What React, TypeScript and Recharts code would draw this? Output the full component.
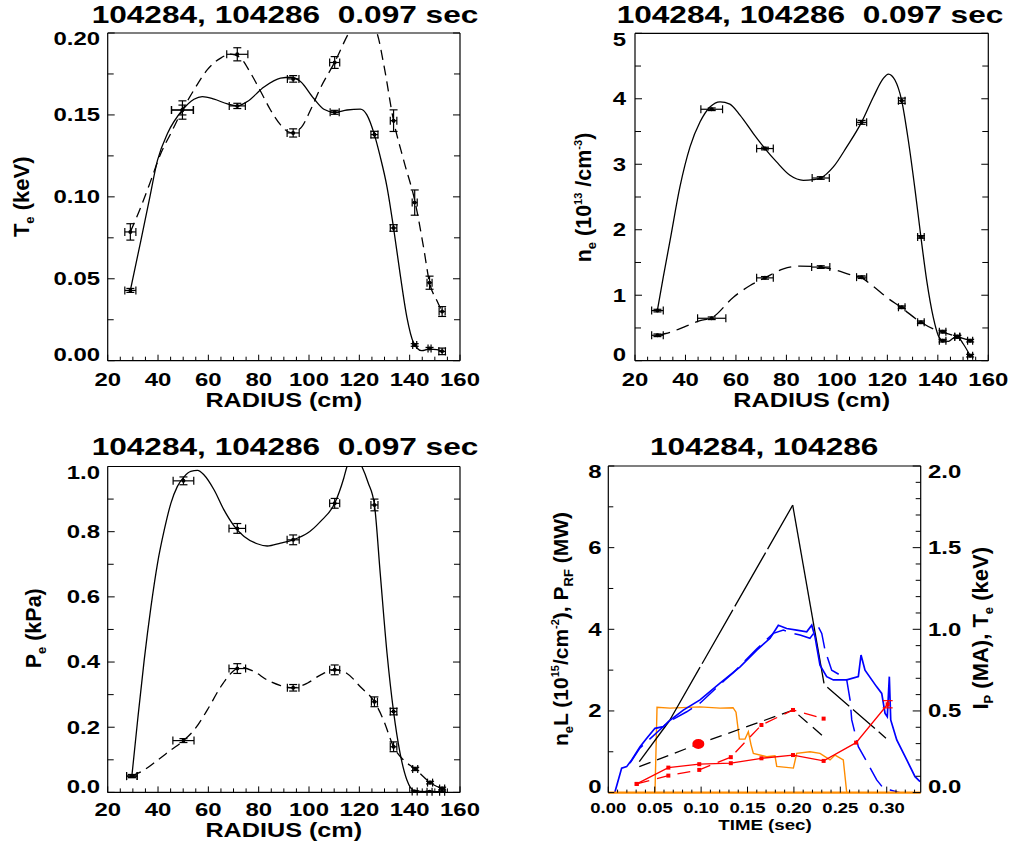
import React from 'react';
import { ComposedChart, Line, Scatter, XAxis, YAxis, ErrorBar } from 'recharts';

const W = 1013;
const H = 849;
const FONT = '"Liberation Sans", Arial, Helvetica, sans-serif';
const BLUE = '#0000ff';
const RED = '#ff0000';
const ORANGE = '#ff8c00';

// ---------------- tick labels ----------------
const RAD_TICKS = [20, 40, 60, 80, 100, 120, 140, 160];
const TE_TICKS = [0, 0.05, 0.1, 0.15, 0.2];
const NE_TICKS = [0, 1, 2, 3, 4, 5];
const PE_TICKS = [0, 0.2, 0.4, 0.6, 0.8, 1.0];
const TIME_TICKS = [0, 0.05, 0.1, 0.15, 0.2, 0.25, 0.3];
const LEFT4_TICKS = [0, 2, 4, 6, 8];
const RIGHT4_TICKS = [0, 0.5, 1.0, 1.5, 2.0];

const range = (a: number, b: number, s: number) => {
  const out: number[] = [];
  for (let i = 0; a + i * s <= b + 1e-9; i++) out.push(+(a + i * s).toFixed(6));
  return out;
};
const RAD_MINOR = range(20, 160, 5);
const TE_MINOR = range(0, 0.2, 0.025);
const NE_MINOR = range(0, 5, 0.5);
const PE_MINOR = range(0, 1, 0.1);
const TIME_MINOR = range(0, 0.33, 0.01);
const LEFT4_MINOR = range(0, 8, 1);
const RIGHT4_MINOR = range(0, 2, 0.1);

// ---------------- panel 1: Te profiles ----------------
const TE_SOLID_R = [29, 49.7, 71.5, 93.7, 110.2, 126, 133.6, 142, 147.9, 152.9];
const TE_SOLID = [0.0429, 0.153, 0.1555, 0.172, 0.1516, 0.138, 0.081, 0.0096, 0.0075, 0.0057];
const TE_SOLID_XERR = [2.2, 4.3, 3.2, 2.3, 1.8, 1.4, 1.3, 0.8, 0.6, 1.3];
const TE_SOLID_YERR = [0.0012, 0.003, 0.0016, 0.002, 0.0012, 0.002, 0.002, 0.0008, 0.0006, 0.002];
const TE_DASH_R = [29, 49.7, 71.5, 93.7, 110.2, 133.6, 142, 147.9, 152.9];
const TE_DASH = [0.0786, 0.153, 0.187, 0.139, 0.182, 0.1465, 0.0965, 0.0476, 0.03];
const TE_DASH_XERR = [2.2, 4.4, 4.2, 2.4, 2.0, 1.3, 1.0, 1.0, 1.2];
const TE_DASH_YERR = [0.005, 0.0056, 0.004, 0.0025, 0.0036, 0.0066, 0.0077, 0.004, 0.003];
const TE_FIT_SOLID_R = [29, 33.2, 36.5, 39.8, 43.8, 49.7, 54.3, 57.6, 62.3, 67.6, 71.5, 75.5, 82.1, 88.7, 92.7, 96.6, 101.9, 105.9, 110.2, 115.1, 120.4, 123, 126, 128.3, 131, 133.6, 136.2, 138.9, 141.5, 144.8, 147.9, 150.8, 152.9];
const TE_FIT_SOLID = [0.0429, 0.0735, 0.098, 0.1224, 0.1388, 0.153, 0.1596, 0.1612, 0.1596, 0.1567, 0.1555, 0.1582, 0.167, 0.1724, 0.173, 0.1704, 0.16, 0.1535, 0.1516, 0.153, 0.1535, 0.15, 0.1378, 0.1245, 0.106, 0.081, 0.053, 0.0265, 0.0112, 0.0061, 0.0071, 0.0067, 0.0057];
const TE_FIT_DASH_R = [29, 33.2, 37.2, 41.1, 45.1, 49.7, 54.3, 59.6, 64.9, 68.9, 72.8, 76.8, 80.8, 84.7, 88.7, 92.7, 96.6, 100.6, 104.5, 110.2, 115.8, 121, 127, 129.6, 133.6, 137.6, 142.2, 145.5, 147.9, 150.8, 152.9];
const TE_FIT_DASH = [0.0786, 0.0939, 0.1102, 0.1265, 0.1388, 0.153, 0.1653, 0.1776, 0.1847, 0.1871, 0.1847, 0.1755, 0.1643, 0.153, 0.1439, 0.1392, 0.1418, 0.153, 0.1663, 0.1822, 0.2, 0.212, 0.2, 0.1816, 0.1465, 0.1224, 0.0965, 0.0694, 0.0476, 0.0367, 0.03];

// ---------------- panel 2: ne profiles ----------------
const NE_R = [28.9, 50.4, 71.5, 93.6, 109.8, 125.7, 133.3, 141.9, 147.7, 152.8];
const NE_SOLID = [0.765, 3.84, 3.24, 2.79, 3.64, 3.97, 1.89, 0.306, 0.367, 0.077];
const NE_SOLID_XERR = [2.3, 4.3, 3.3, 3.4, 2.0, 1.3, 1.3, 1.3, 1.0, 1.0];
const NE_SOLID_YERR = [0.02, 0.02, 0.02, 0.02, 0.03, 0.04, 0.02, 0.02, 0.02, 0.02];
const NE_DASH = [0.388, 0.648, 1.265, 1.43, 1.276, 0.816, 0.587, 0.444, 0.367, 0.306];
const NE_DASH_XERR = [2.3, 5.6, 3.3, 3.6, 2.0, 1.3, 1.3, 1.3, 1.0, 1.0];
const NE_DASH_YERR = [0.02, 0.02, 0.02, 0.02, 0.02, 0.02, 0.02, 0.02, 0.02, 0.02];
const NE_FIT_SOLID_R = [28.85, 31.2, 33.9, 37.8, 41.8, 45.8, 49.8, 53.7, 57.6, 61.6, 66.9, 71.5, 76.1, 81.4, 86.7, 90.7, 93.6, 98.6, 103.9, 109.8, 114.5, 118.4, 120.4, 123, 125.7, 128.3, 131, 133.3, 135.6, 138.2, 140.2, 141.9, 144.2, 146.2, 147.7, 150.1, 152.8];
const NE_FIT_SOLID = [0.765, 1.276, 1.837, 2.653, 3.265, 3.648, 3.878, 3.954, 3.918, 3.75, 3.469, 3.24, 3.036, 2.832, 2.755, 2.765, 2.79, 2.959, 3.265, 3.643, 4.031, 4.311, 4.378, 4.286, 3.969, 3.367, 2.602, 1.888, 1.224, 0.663, 0.383, 0.306, 0.296, 0.347, 0.367, 0.255, 0.077];
const NE_FIT_DASH_R = [28.85, 33.9, 39.8, 45.8, 50.4, 59, 65.6, 71.5, 78.8, 85.4, 93.6, 98.6, 105.2, 109.8, 114.5, 119.7, 125.7, 133.3, 138.2, 142.2, 147.7, 152.8];
const NE_FIT_DASH = [0.388, 0.434, 0.52, 0.612, 0.655, 0.97, 1.148, 1.265, 1.403, 1.444, 1.429, 1.393, 1.316, 1.265, 1.133, 0.969, 0.806, 0.587, 0.485, 0.434, 0.367, 0.306];

// ---------------- panel 3: Pe profiles ----------------
const PE_SOLID_R = [29.6, 50.1, 71.5, 93.7, 110.2, 126, 133.6, 142, 147.9, 152.9];
const PE_SOLID = [0.05, 0.956, 0.81, 0.775, 0.887, 0.882, 0.248, 0.003, 0.002, 0.002];
const PE_SOLID_XERR = [2.1, 4.1, 3.3, 2.4, 2.0, 1.4, 1.3, 1.0, 1.0, 1.0];
const PE_SOLID_YERR = [0.005, 0.012, 0.015, 0.015, 0.015, 0.018, 0.01, 0.002, 0.002, 0.002];
const PE_DASH_R = [29.6, 50.1, 71.5, 93.7, 110.2, 126, 133.6, 142.2, 148.1, 152.9];
const PE_DASH = [0.05, 0.159, 0.38, 0.321, 0.376, 0.278, 0.14, 0.072, 0.03, 0.012];
const PE_DASH_XERR = [2.1, 4.2, 3.3, 2.3, 2.0, 1.2, 1.3, 1.0, 1.0, 1.0];
const PE_DASH_YERR = [0.004, 0.006, 0.015, 0.01, 0.015, 0.015, 0.015, 0.005, 0.004, 0.004];
const PE_FIT_SOLID_R = [29.6, 31.9, 34.5, 37.2, 39.8, 42.5, 45.1, 47.7, 50.4, 53.0, 55.7, 58.3, 62.3, 66.2, 70.2, 74.2, 79.4, 83.4, 88.7, 93.7, 99.3, 104.5, 110.2, 113.8, 115.1, 118, 121, 123.5, 126, 128.3, 131, 133.6, 136.2, 138.9, 141.5, 146.8, 153.4];
const PE_FIT_SOLID = [0.05, 0.222, 0.406, 0.57, 0.703, 0.806, 0.887, 0.939, 0.969, 0.985, 0.988, 0.974, 0.928, 0.867, 0.818, 0.785, 0.763, 0.756, 0.765, 0.775, 0.795, 0.831, 0.887, 0.964, 1.0, 1.035, 1.0, 0.95, 0.882, 0.672, 0.427, 0.248, 0.12, 0.038, 0.007, 0.002, 0.002];
const PE_FIT_DASH_R = [29.6, 34.5, 39.8, 45.1, 50.1, 54.3, 59.6, 64.9, 68.9, 72.8, 78.1, 83.4, 88.7, 93.7, 99.3, 104.5, 110.2, 115.1, 120.4, 126, 129.6, 133.6, 137.6, 142.2, 145.5, 148.1, 152.9];
const PE_FIT_DASH = [0.05, 0.069, 0.099, 0.13, 0.159, 0.191, 0.253, 0.324, 0.365, 0.384, 0.371, 0.345, 0.328, 0.321, 0.335, 0.36, 0.376, 0.365, 0.324, 0.278, 0.222, 0.14, 0.099, 0.072, 0.048, 0.03, 0.012];

// ---------------- panel 4: time traces ----------------
const NEL_A_T = [0.007, 0.0144, 0.0198, 0.0252, 0.0342, 0.0414, 0.0503, 0.0593, 0.0647, 0.0808, 0.0988, 0.1204, 0.142, 0.16, 0.1743, 0.1832, 0.1922, 0.203, 0.2138, 0.2192, 0.2227, 0.2246, 0.2281, 0.2353, 0.2425, 0.2569, 0.2694, 0.2723, 0.2766, 0.2892, 0.2946, 0.2982, 0.3006, 0.3028, 0.3043, 0.3108, 0.3216, 0.3305, 0.3359];
const NEL_A = [0.0, 0.6, 0.636, 0.8, 1.125, 1.33, 1.575, 1.615, 1.737, 2.02, 2.27, 2.68, 3.08, 3.49, 3.78, 4.1, 4.02, 3.98, 3.94, 4.1, 3.82, 3.57, 3.12, 2.84, 2.76, 2.76, 2.84, 3.37, 3.0, 2.59, 2.43, 1.94, 1.86, 2.84, 1.78, 1.29, 0.8, 0.39, 0.27];
const NEL_B_T = [0.0234, 0.034, 0.0647, 0.0845, 0.0988, 0.1257, 0.1344, 0.16, 0.1778, 0.1886, 0.1994, 0.2066, 0.2173, 0.2263, 0.23, 0.2335, 0.2407, 0.2497, 0.2569, 0.2605, 0.2623, 0.2694, 0.2784, 0.2892, 0.2963, 0.3036, 0.3143];
const NEL_B = [0.72, 1.09, 1.73, 1.98, 2.19, 2.76, 2.93, 3.52, 3.9, 3.98, 3.9, 3.86, 3.78, 4.06, 3.9, 3.49, 3.0, 2.88, 2.76, 2.27, 1.78, 1.125, 0.76, 0.31, 0.11, 0.066, 0.0];
const PRF_T = [0, 0.0503, 0.0525, 0.0665, 0.0988, 0.1204, 0.1344, 0.1376, 0.1412, 0.1473, 0.1509, 0.1538, 0.1563, 0.1707, 0.1796, 0.1815, 0.1994, 0.203, 0.2173, 0.2281, 0.2389, 0.2443, 0.2532, 0.2569, 0.3366];
const PRF = [0, 0, 2.09, 2.07, 2.1, 2.07, 2.08, 1.97, 1.31, 1.31, 1.49, 1.17, 0.96, 0.88, 0.9, 0.64, 0.6, 0.96, 1.0, 0.96, 0.8, 0.92, 0.8, 0, 0];
const TE_A_T = [0.0306, 0.0647, 0.098, 0.132, 0.165, 0.199, 0.232, 0.267, 0.301];
const TE_A = [0.053, 0.153, 0.174, 0.18, 0.21, 0.23, 0.194, 0.306, 0.541];
const TE_A_ERR = [0, 0, 0, 0, 0, 0, 0, 0, 0.022];
const TE_B_T = [0.0306, 0.0647, 0.098, 0.132, 0.165, 0.199, 0.232];
const TE_B = [0.053, 0.104, 0.139, 0.217, 0.414, 0.506, 0.453];
const TE0_T = [0.0334, 0.097, 0.199, 0.232];
const TE0 = [0.159, 0.2975, 0.505, 0.3425];
const IP_RISE1_T = [0.0334, 0.0657];
const IP_RISE1 = [0.19, 0.4385];
const IP_RISE2_T = [0.0657, 0.1987];
const IP_RISE2 = [0.4385, 1.76];
const IP_FALL_T = [0.1987, 0.2324];
const IP_FALL = [1.76, 0.669];
const IP_TAIL_T = [0.236, 0.2992];
const IP_TAIL = [0.645, 0.333];
const NOW_T = [0.097];
const NOW_TE = [0.2975];

// ---------------- helpers ----------------
const pts = (r: number[], v: number[], ex: number[], ey: number[]) =>
  r.map((x, i) => ({ x, y: v[i], ex: ex[i], ey: ey[i] }));
const curve = (r: number[], v: number[]) => r.map((x, i) => ({ x, y: v[i] }));

type Frame = { l: number; t: number; r: number; b: number };
const P1: Frame = { l: 107.7, t: 33, r: 460, b: 360.7 };
const P2: Frame = { l: 635, t: 33.3, r: 988.3, b: 360.7 };
const P3: Frame = { l: 107.7, t: 466.5, r: 460, b: 792.4 };
const P4: Frame = { l: 608.3, t: 466, r: 920.7, b: 792.6 };
// axes are 1px thick bands; margins leave room for them
const marginOf = (f: Frame) => ({ left: f.l - 1, top: f.t - 1, right: W - f.r - 1, bottom: H - f.b - 1 });

type TickOpts = {
  side: 'bottom' | 'top' | 'left' | 'right';
  majors: number[];
  major: number;
  minor: number;
  fmt?: (v: number) => string;
  off?: number;
  fs?: number;
  sx?: number;
  lo?: number;
  hi?: number;
};
const isIn = (arr: number[], v: number) => arr.some((m) => Math.abs(m - v) < 1e-7);

function mkTick(o: TickOpts) {
  return (p: any) => {
    const x = p.x as number;
    const y = p.y as number;
    const v = p.payload ? (p.payload.value as number) : 0;
    const maj = isIn(o.majors, v);
    const len = maj ? o.major : o.minor;
    let x2 = x;
    let y2 = y;
    if (o.side === 'bottom') y2 = y - len;
    else if (o.side === 'top') y2 = y + len;
    else if (o.side === 'left') x2 = x + len;
    else x2 = x - len;
    let label: React.ReactNode = null;
    if (maj && o.fmt) {
      const fs = o.fs ?? 18;
      const sx = o.sx ?? 1.33;
      const off = o.off ?? 8;
      let tx = x;
      let ty = y;
      let anchor: 'middle' | 'end' | 'start' = 'middle';
      if (o.side === 'bottom') {
        ty = y + off;
      } else {
        let dy = 0.358 * fs;
        if (o.hi !== undefined && Math.abs(v - o.hi) < 1e-7) dy += 6;
        if (o.lo !== undefined && Math.abs(v - o.lo) < 1e-7) dy -= 6;
        ty = y + dy;
        if (o.side === 'left') {
          tx = x - off;
          anchor = 'end';
        } else {
          tx = x + off;
          anchor = 'start';
        }
      }
      label = (
        <text
          transform={`translate(${tx},${ty}) scale(${sx},1)`}
          textAnchor={anchor}
          fontSize={fs}
          fontWeight="bold"
          fontFamily={FONT}
          fill="#000"
        >
          {o.fmt(v)}
        </text>
      );
    }
    return (
      <g>
        <line x1={x} y1={y} x2={x2} y2={y2} stroke="#000" strokeWidth={1} />
        {label}
      </g>
    );
  };
}

const AXIS = { stroke: '#000', strokeWidth: 1.2 };
const dotShape = (p: any) => <circle cx={p.cx} cy={p.cy} r={2} fill="#000" />;
const squareDot = (p: any) =>
  p.cx == null ? <g /> : <rect x={p.cx - 2} y={p.cy - 2} width={4} height={4} fill={RED} />;

const axisCommon = {
  type: 'number' as const,
  allowDataOverflow: true,
  interval: 0 as const,
  tickSize: 0,
  tickMargin: 0,
  tickLine: false,
  axisLine: AXIS,
};

type ProfileProps = {
  f: Frame;
  yDomain: [number, number];
  yTicks: number[];
  yMinor: number[];
  yFmt: (v: number) => string;
  yOff: number;
  xOff: number;
  solidPts: any[];
  dashPts: any[];
  solidFit: any[];
  dashFit: any[];
  dash: string;
};

function ProfilePanel(props: ProfileProps) {
  const { f } = props;
  const xs = Array.from(new Set([...RAD_TICKS, ...RAD_MINOR])).sort((a, b) => a - b);
  const ys = Array.from(new Set([...props.yTicks, ...props.yMinor])).sort((a, b) => a - b);
  return (
    <div style={{ position: 'absolute', left: 0, top: 0 }}>
      <ComposedChart width={W} height={H} margin={marginOf(f)}>
        <XAxis
          {...axisCommon}
          xAxisId="b"
          dataKey="x"
          domain={[20, 160]}
          ticks={xs}
          height={1}
          tick={mkTick({ side: 'bottom', majors: RAD_TICKS, major: 6, minor: 4, fmt: (v) => String(v), off: props.xOff })}
        />
        <XAxis
          {...axisCommon}
          xAxisId="t"
          orientation="top"
          domain={[20, 160]}
          ticks={xs}
          height={1}
          tick={mkTick({ side: 'top', majors: RAD_TICKS, major: 5, minor: 4 })}
        />
        <YAxis
          {...axisCommon}
          yAxisId="l"
          domain={props.yDomain}
          ticks={ys}
          width={1}
          tick={mkTick({
            side: 'left',
            majors: props.yTicks,
            major: 7,
            minor: 6,
            fmt: props.yFmt,
            off: props.yOff,
            lo: props.yDomain[0],
            hi: props.yDomain[1],
          })}
        />
        <YAxis
          {...axisCommon}
          yAxisId="r"
          orientation="right"
          domain={props.yDomain}
          ticks={ys}
          width={1}
          tick={mkTick({ side: 'right', majors: props.yTicks, major: 7, minor: 6 })}
        />
        <Line
          xAxisId="b"
          yAxisId="l"
          data={props.dashFit}
          dataKey="y"
          type="monotoneX"
          stroke="#000"
          strokeWidth={1.3}
          strokeDasharray={props.dash}
          dot={false}
          activeDot={false}
          isAnimationActive={false}
        />
        <Line
          xAxisId="b"
          yAxisId="l"
          data={props.solidFit}
          dataKey="y"
          type="monotoneX"
          stroke="#000"
          strokeWidth={1.3}
          dot={false}
          activeDot={false}
          isAnimationActive={false}
        />
        <Scatter xAxisId="b" yAxisId="l" data={props.dashPts} dataKey="y" shape={dotShape} isAnimationActive={false}>
          <ErrorBar dataKey="ex" direction="x" width={4} stroke="#000" strokeWidth={1.2} isAnimationActive={false} />
          <ErrorBar dataKey="ey" direction="y" width={4} stroke="#000" strokeWidth={1.2} isAnimationActive={false} />
        </Scatter>
        <Scatter xAxisId="b" yAxisId="l" data={props.solidPts} dataKey="y" shape={dotShape} isAnimationActive={false}>
          <ErrorBar dataKey="ex" direction="x" width={4} stroke="#000" strokeWidth={1.2} isAnimationActive={false} />
          <ErrorBar dataKey="ey" direction="y" width={4} stroke="#000" strokeWidth={1.2} isAnimationActive={false} />
        </Scatter>
      </ComposedChart>
    </div>
  );
}

function TimePanel() {
  const f = P4;
  const xs = Array.from(new Set([...TIME_TICKS, ...TIME_MINOR])).sort((a, b) => a - b);
  const yl = Array.from(new Set([...LEFT4_TICKS, ...LEFT4_MINOR])).sort((a, b) => a - b);
  const yr = Array.from(new Set([...RIGHT4_TICKS, ...RIGHT4_MINOR])).sort((a, b) => a - b);
  const seg = (t: number[], v: number[]) => curve(t, v);
  const teA = TE_A_T.map((x, i) => ({ x, y: TE_A[i], e: TE_A_ERR[i] }));
  const line = (
    data: any[],
    axis: string,
    color: string,
    width: number,
    dash?: string,
    dot: any = false,
    key?: string,
    children?: React.ReactNode
  ) => (
    <Line
      key={key}
      xAxisId="b"
      yAxisId={axis}
      data={data}
      dataKey="y"
      type="linear"
      stroke={color}
      strokeWidth={width}
      strokeDasharray={dash}
      dot={dot}
      activeDot={false}
      isAnimationActive={false}
    >
      {children}
    </Line>
  );
  return (
    <div style={{ position: 'absolute', left: 0, top: 0 }}>
      <ComposedChart width={W} height={H} margin={marginOf(f)}>
        <XAxis
          {...axisCommon}
          xAxisId="b"
          dataKey="x"
          domain={[0, 0.3366]}
          ticks={xs}
          height={1}
          axisLine={{ stroke: ORANGE, strokeWidth: 2.2 }}
          tick={mkTick({ side: 'bottom', majors: TIME_TICKS, major: 6, minor: 3, fmt: (v) => v.toFixed(2), off: 20.6, fs: 14, sx: 1.32 })}
        />
        <XAxis
          {...axisCommon}
          xAxisId="t"
          orientation="top"
          domain={[0, 0.3366]}
          ticks={xs}
          height={1}
          tick={mkTick({ side: 'top', majors: TIME_TICKS, major: 6, minor: 3 })}
        />
        <YAxis
          {...axisCommon}
          yAxisId="L"
          domain={[0, 8]}
          ticks={yl}
          width={1}
          tick={mkTick({ side: 'left', majors: LEFT4_TICKS, major: 6, minor: 5, fmt: (v) => String(v), off: 6.8, lo: 0, hi: 8 })}
        />
        <YAxis
          {...axisCommon}
          yAxisId="R"
          orientation="right"
          domain={[0, 2]}
          ticks={yr}
          width={1}
          tick={mkTick({ side: 'right', majors: RIGHT4_TICKS, major: 8, minor: 5, fmt: (v) => v.toFixed(1), off: 7.3, lo: 0, hi: 2 })}
        />
        {line(seg(PRF_T, PRF), 'L', ORANGE, 1.4, undefined, false, 'prf')}
        {line(seg(IP_RISE1_T, IP_RISE1), 'R', '#000', 1.3, undefined, false, 'ip1')}
        {line(seg(IP_RISE2_T, IP_RISE2), 'R', '#000', 1.3, '62 4', false, 'ip2')}
        {line(seg(IP_FALL_T, IP_FALL), 'R', '#000', 1.3, undefined, false, 'ip3')}
        {line(seg(IP_TAIL_T, IP_TAIL), 'R', '#000', 1.3, '29 5', false, 'ip4')}
        {line(seg(NEL_B_T, NEL_B), 'L', BLUE, 1.5, '22 9', false, 'nelb')}
        {line(seg(NEL_A_T, NEL_A), 'L', BLUE, 1.7, undefined, false, 'nela')}
        {line(seg(TE0_T, TE0), 'R', '#000', 1.3, '12 7', false, 'te0')}
        {line(seg(TE_B_T, TE_B), 'R', RED, 1.3, '13 8', squareDot, 'teb')}
        {line(
          teA,
          'R',
          RED,
          1.3,
          undefined,
          squareDot,
          'tea',
          <ErrorBar dataKey="e" direction="y" width={5} stroke={RED} strokeWidth={1.2} isAnimationActive={false} />
        )}
        <Scatter
          xAxisId="b"
          yAxisId="R"
          data={seg(NOW_T, NOW_TE)}
          dataKey="y"
          isAnimationActive={false}
          shape={(p: any) => <ellipse cx={p.cx} cy={p.cy} rx={6} ry={5} fill={RED} />}
        />
      </ComposedChart>
    </div>
  );
}

function Overlay() {
  const title = (cx: number, y: number, len: number, s: string) => (
    <text
      x={cx}
      y={y}
      textAnchor="middle"
      textLength={len}
      lengthAdjust="spacingAndGlyphs"
      fontSize={23.7}
      fontWeight="bold"
      fontFamily={FONT}
      style={{ whiteSpace: 'pre' }}
    >
      {s}
    </text>
  );
  const xt = (cx: number, y: number, len: number, fs: number, s: string) => (
    <text
      x={cx}
      y={y}
      textAnchor="middle"
      textLength={len}
      lengthAdjust="spacingAndGlyphs"
      fontSize={fs}
      fontWeight="bold"
      fontFamily={FONT}
      style={{ whiteSpace: 'pre' }}
    >
      {s}
    </text>
  );
  const rot = (bx: number, cy: number, fs: number, children: React.ReactNode) => (
    <text
      transform={`translate(${bx},${cy}) rotate(-90)`}
      textAnchor="middle"
      fontSize={fs}
      fontWeight="bold"
      fontFamily={FONT}
      style={{ whiteSpace: 'pre' }}
    >
      {children}
    </text>
  );
  const SUB = 13;
  const SUP = 11;
  return (
    <svg
      width={W}
      height={H}
      style={{ position: 'absolute', left: 0, top: 0, pointerEvents: 'none' }}
    >
      {title(285, 22.7, 386.7, '104284, 104286  0.097 sec')}
      {title(810, 22.7, 386.7, '104284, 104286  0.097 sec')}
      {title(285, 455, 386.7, '104284, 104286  0.097 sec')}
      {title(764.2, 455, 228.3, '104284, 104286')}
      {xt(283.8, 407, 156.7, 20, 'RADIUS (cm)')}
      {xt(811.7, 407, 156.7, 20, 'RADIUS (cm)')}
      {xt(283.8, 836.5, 156.7, 19.5, 'RADIUS (cm)')}
      {xt(765, 829.5, 93.3, 14, 'TIME (sec)')}
      {rot(29, 196.8, 22, (
        <>
          T<tspan dy={5} fontSize={SUB}>e</tspan>
          <tspan dy={-5}> (keV)</tspan>
        </>
      ))}
      {rot(591, 197.5, 21.5, (
        <>
          n<tspan dy={5} fontSize={SUB}>e</tspan>
          <tspan dy={-5}> (10</tspan>
          <tspan dy={-9} fontSize={SUP}>13</tspan>
          <tspan dy={9}> /cm</tspan>
          <tspan dy={-9} fontSize={SUP}>-3</tspan>
          <tspan dy={9}>)</tspan>
        </>
      ))}
      {rot(41, 628.3, 21.5, (
        <>
          P<tspan dy={5} fontSize={SUB}>e</tspan>
          <tspan dy={-5}> (kPa)</tspan>
        </>
      ))}
      {rot(568, 629, 21, (
        <>
          n<tspan dy={5} fontSize={SUB}>e</tspan>
          <tspan dy={-5}>L (10</tspan>
          <tspan dy={-9} fontSize={SUP}>15</tspan>
          <tspan dy={9}>/cm</tspan>
          <tspan dy={-9} fontSize={SUP}>-2</tspan>
          <tspan dy={9}>), P</tspan>
          <tspan dy={5} fontSize={SUB}>RF</tspan>
          <tspan dy={-5}> (MW)</tspan>
        </>
      ))}
      {rot(988, 628.3, 22, (
        <>
          I<tspan dy={5} fontSize={SUB}>P</tspan>
          <tspan dy={-5}> (MA), T</tspan>
          <tspan dy={5} fontSize={SUB}>e</tspan>
          <tspan dy={-5}> (keV)</tspan>
        </>
      ))}
    </svg>
  );
}

export default function App() {
  return (
    <div style={{ position: 'absolute', left: 0, top: 0, width: W, height: H, background: '#fff', fontFamily: FONT }}>
      <ProfilePanel
        f={P1}
        yDomain={[0, 0.2]}
        yTicks={TE_TICKS}
        yMinor={TE_MINOR}
        yFmt={(v) => v.toFixed(2)}
        yOff={7.7}
        xOff={25.7}
        solidPts={pts(TE_SOLID_R, TE_SOLID, TE_SOLID_XERR, TE_SOLID_YERR)}
        dashPts={pts(TE_DASH_R, TE_DASH, TE_DASH_XERR, TE_DASH_YERR)}
        solidFit={curve(TE_FIT_SOLID_R, TE_FIT_SOLID)}
        dashFit={curve(TE_FIT_DASH_R, TE_FIT_DASH)}
        dash="10 6"
      />
      <ProfilePanel
        f={P2}
        yDomain={[0, 5]}
        yTicks={NE_TICKS}
        yMinor={NE_MINOR}
        yFmt={(v) => String(v)}
        yOff={9}
        xOff={25.7}
        solidPts={pts(NE_R, NE_SOLID, NE_SOLID_XERR, NE_SOLID_YERR)}
        dashPts={pts(NE_R, NE_DASH, NE_DASH_XERR, NE_DASH_YERR)}
        solidFit={curve(NE_FIT_SOLID_R, NE_FIT_SOLID)}
        dashFit={curve(NE_FIT_DASH_R, NE_FIT_DASH)}
        dash="13 7"
      />
      <ProfilePanel
        f={P3}
        yDomain={[0, 1]}
        yTicks={PE_TICKS}
        yMinor={PE_MINOR}
        yFmt={(v) => v.toFixed(1)}
        yOff={7.7}
        xOff={24}
        solidPts={pts(PE_SOLID_R, PE_SOLID, PE_SOLID_XERR, PE_SOLID_YERR)}
        dashPts={pts(PE_DASH_R, PE_DASH, PE_DASH_XERR, PE_DASH_YERR)}
        solidFit={curve(PE_FIT_SOLID_R, PE_FIT_SOLID)}
        dashFit={curve(PE_FIT_DASH_R, PE_FIT_DASH)}
        dash="10 6"
      />
      <TimePanel />
      <Overlay />
    </div>
  );
}
